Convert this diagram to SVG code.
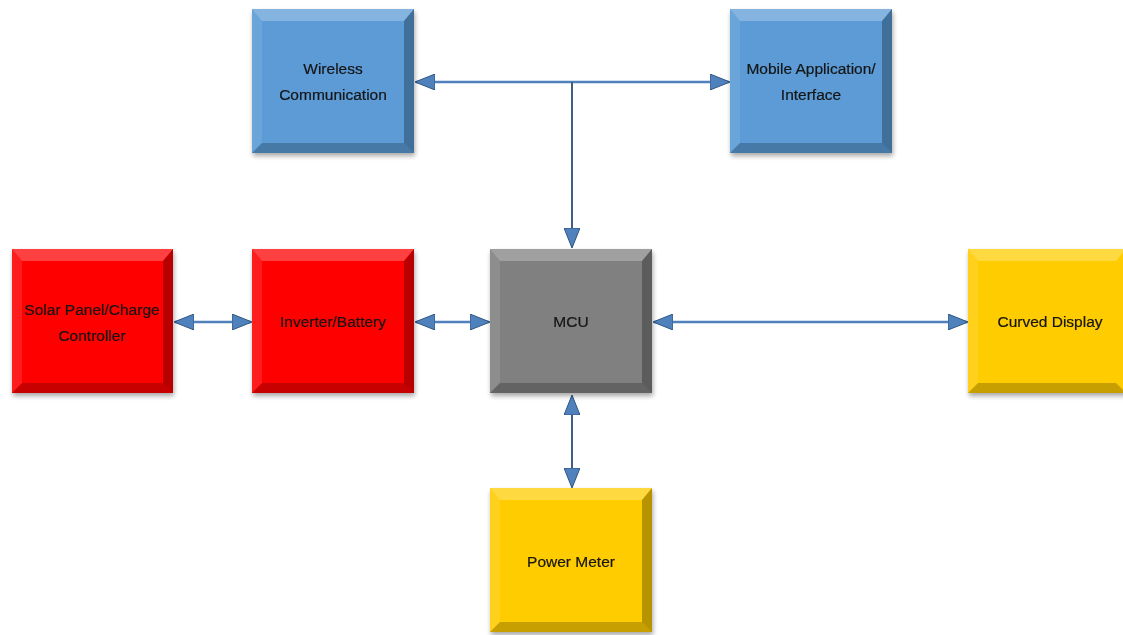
<svg xmlns="http://www.w3.org/2000/svg" width="1123" height="635" viewBox="0 0 1123 635">
<defs>
<filter id="sh" x="-10%" y="-10%" width="125%" height="125%">
<feGaussianBlur in="SourceAlpha" stdDeviation="2.5"/>
<feOffset dx="1" dy="3" result="b"/>
<feComponentTransfer><feFuncA type="linear" slope="0.35"/></feComponentTransfer>
<feMerge><feMergeNode/><feMergeNode in="SourceGraphic"/></feMerge>
</filter>
<marker id="ah" viewBox="0 0 20 16" refX="19" refY="8" markerWidth="20" markerHeight="16" markerUnits="userSpaceOnUse" orient="auto-start-reverse">
<path d="M0,0 L20,8 L0,16 Z" fill="#4f81bd" stroke="#2f5580" stroke-width="1"/>
</marker>
<style>
.t{font-family:"Liberation Sans","Open Sans",sans-serif;font-size:15.5px;fill:#141414;text-anchor:middle;stroke:#141414;stroke-width:0.2}
.hl{fill:#ffffff;opacity:0.25}
.hs{fill:#ffffff;opacity:0.1}
.dk{fill:#000000;opacity:0.28}
.db{fill:#000000;opacity:0.22}
.ln{stroke:#4f81bd;stroke-width:2.5;fill:none}
.lv{stroke:#3f5f80;stroke-width:2;fill:none}
.blue{fill:#5b9bd5}.red{fill:#ff0000}.gray{fill:#808080}.yel{fill:#ffcc00}
</style>
</defs>

<g id="connectors">
<line class="ln" x1="416" y1="82" x2="729" y2="82" marker-start="url(#ah)" marker-end="url(#ah)"/>
<line class="lv" x1="572" y1="82" x2="572" y2="247" marker-end="url(#ah)"/>
<line class="ln" x1="175" y1="322" x2="251" y2="322" marker-start="url(#ah)" marker-end="url(#ah)"/>
<line class="ln" x1="416" y1="322" x2="489" y2="322" marker-start="url(#ah)" marker-end="url(#ah)"/>
<line class="ln" x1="654" y1="322" x2="967" y2="322" marker-start="url(#ah)" marker-end="url(#ah)"/>
<line class="lv" x1="572" y1="396" x2="572" y2="487" marker-start="url(#ah)" marker-end="url(#ah)"/>
</g>

<g id="wireless" filter="url(#sh)">
<rect class="blue" x="252" y="9" width="162" height="144"/>
<polygon class="hl" points="252,9 414,9 404,21 262,21"/>
<polygon class="hs" points="252,9 262,21 262,143 252,153"/>
<polygon class="dk" points="414,9 414,153 404,143 404,21"/>
<polygon class="db" points="252,153 414,153 404,143 262,143"/>
<text class="t" x="333" y="74">Wireless</text>
<text class="t" x="333" y="100">Communication</text>
</g>

<g id="mobile" filter="url(#sh)">
<rect class="blue" x="730" y="9" width="162" height="144"/>
<polygon class="hl" points="730,9 892,9 882,21 740,21"/>
<polygon class="hs" points="730,9 740,21 740,143 730,153"/>
<polygon class="dk" points="892,9 892,153 882,143 882,21"/>
<polygon class="db" points="730,153 892,153 882,143 740,143"/>
<text class="t" x="811" y="74">Mobile Application/</text>
<text class="t" x="811" y="100">Interface</text>
</g>

<g id="solar" filter="url(#sh)">
<rect class="red" x="12" y="249" width="161" height="144"/>
<polygon class="hl" points="12,249 173,249 163,261 22,261"/>
<polygon class="hs" points="12,249 22,261 22,383 12,393"/>
<polygon class="dk" points="173,249 173,393 163,383 163,261"/>
<polygon class="db" points="12,393 173,393 163,383 22,383"/>
<text class="t" x="92" y="315">Solar Panel/Charge</text>
<text class="t" x="92" y="341">Controller</text>
</g>

<g id="inverter" filter="url(#sh)">
<rect class="red" x="252" y="249" width="162" height="144"/>
<polygon class="hl" points="252,249 414,249 404,261 262,261"/>
<polygon class="hs" points="252,249 262,261 262,383 252,393"/>
<polygon class="dk" points="414,249 414,393 404,383 404,261"/>
<polygon class="db" points="252,393 414,393 404,383 262,383"/>
<text class="t" x="333" y="327">Inverter/Battery</text>
</g>

<g id="mcu" filter="url(#sh)">
<rect class="gray" x="490" y="249" width="162" height="144"/>
<polygon class="hl" points="490,249 652,249 642,261 500,261"/>
<polygon class="hs" points="490,249 500,261 500,383 490,393"/>
<polygon class="dk" points="652,249 652,393 642,383 642,261"/>
<polygon class="db" points="490,393 652,393 642,383 500,383"/>
<text class="t" x="571" y="327">MCU</text>
</g>

<g id="curved" filter="url(#sh)">
<rect class="yel" x="968" y="249" width="158" height="144"/>
<polygon class="hl" points="968,249 1126,249 1116,261 978,261"/>
<polygon class="hs" points="968,249 978,261 978,383 968,393"/>
<polygon class="db" points="968,393 1126,393 1116,383 978,383"/>
<text class="t" x="1050" y="327">Curved Display</text>
</g>

<g id="power" filter="url(#sh)">
<rect class="yel" x="490" y="488" width="162" height="144"/>
<polygon class="hl" points="490,488 652,488 642,500 500,500"/>
<polygon class="hs" points="490,488 500,500 500,622 490,632"/>
<polygon class="dk" points="652,488 652,632 642,622 642,500"/>
<polygon class="db" points="490,632 652,632 642,622 500,622"/>
<text class="t" x="571" y="567">Power Meter</text>
</g>
</svg>
